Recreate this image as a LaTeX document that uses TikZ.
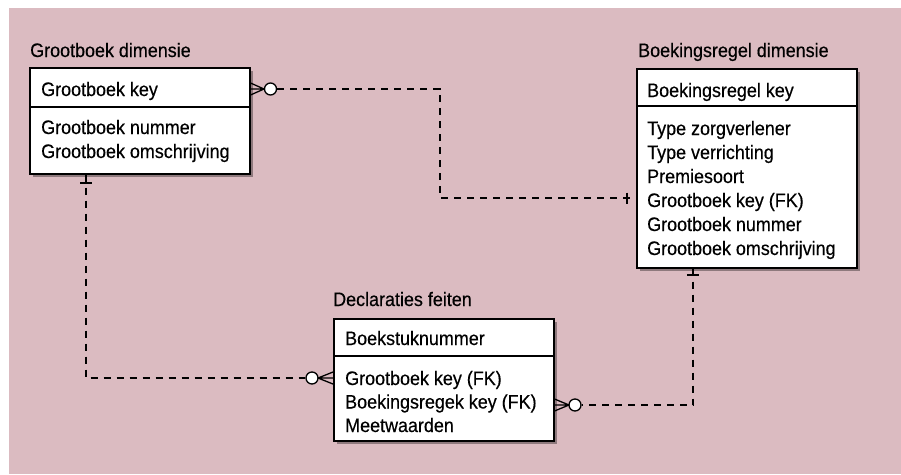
\documentclass[tikz,border=0pt]{standalone}
\usepackage{fontspec}
\setmainfont{Liberation Sans}[FakeStretch=0.92, FakeBold=0.4]
\usetikzlibrary{shadows}
\definecolor{bgpink}{HTML}{DBBBC1}
\begin{document}
\begin{tikzpicture}[x=1pt,y=-1pt,
  ebox/.style={draw=black, line width=1.5pt, fill=white, anchor=north west, inner sep=0pt,
    drop shadow={shadow xshift=3pt, shadow yshift=-3pt, fill=black, opacity=0.35}},
  lbl/.style={anchor=base west, inner sep=0pt, font=\fontsize{19.5}{23}\selectfont},
  conn/.style={line width=1.4pt, dash pattern=on 7pt off 6pt},
  sym/.style={line width=1.3pt},
  zero/.style={circle, draw=black, line width=1.3pt, fill=white, minimum size=12pt, inner sep=0pt}
]
\useasboundingbox (0,0) rectangle (901,474);
\fill[white] (0,0) rectangle (901,474);
\fill[bgpink] (9,8) rectangle (901,474);

% Grootboek dimensie
\node[lbl] (gbtitle) at (30,57) {Grootboek dimensie};
\node[ebox, minimum width=220pt, minimum height=106pt] (gb) at (29,67) {};
\draw[line width=1.5pt] (gb.west |- 0,107) -- (gb.east |- 0,107);
\node[lbl] (gbkey) at (41,96) {Grootboek key};
\node[lbl] (gbf1) at (41,134) {Grootboek nummer};
\node[lbl] (gbf2) at (41,158) {Grootboek omschrijving};

% Boekingsregel dimensie
\node[lbl] (brtitle) at (638,57) {Boekingsregel dimensie};
\node[ebox, minimum width=220pt, minimum height=199pt] (br) at (636,68) {};
\draw[line width=1.5pt] (br.west |- 0,106) -- (br.east |- 0,106);
\node[lbl] (brkey) at (647,97) {Boekingsregel key};
\node[lbl] (brf1) at (647,135) {Type zorgverlener};
\node[lbl] (brf2) at (647,159) {Type verrichting};
\node[lbl] (brf3) at (647,183) {Premiesoort};
\node[lbl] (brf4) at (647,207) {Grootboek key (FK)};
\node[lbl] (brf5) at (647,231) {Grootboek nummer};
\node[lbl] (brf6) at (647,255) {Grootboek omschrijving};

% Declaraties feiten
\node[lbl] (dftitle) at (333,306) {Declaraties feiten};
\node[ebox, minimum width=220pt, minimum height=122pt] (df) at (333,318) {};
\draw[line width=1.5pt] (df.west |- 0,356) -- (df.east |- 0,356);
\node[lbl] (dfkey) at (345,345) {Boekstuknummer};
\node[lbl] (dff1) at (345,385) {Grootboek key (FK)};
\node[lbl] (dff2) at (345,408.5) {Boekingsregek key (FK)};
\node[lbl] (dff3) at (345,432) {Meetwaarden};

% Connector 1: Grootboek key -> Boekingsregel (FK)
\node[zero] (z1) at (270.5,89) {};
\draw[conn] (z1.east) -- (440,89) -- (440,198) -- (br.west |- 0,198);
\draw[sym] (gb.east |- 0,83) -- (264,89) (gb.east |- 0,95) -- (264,89) (gb.east |- 0,89) -- (z1.west);
\draw[sym] (627,192.5) -- (627,203.5);

% Connector 2: Grootboek -> Declaraties
\node[zero] (z2) at (312,378) {};
\draw[conn] (gb.south -| 86,0) -- (86,378) -- (z2.west);
\draw[sym] (80,183) -- (92,183);
\draw[sym] (gb.south -| 86,0) -- (86,178);
\draw[sym] (df.west |- 0,372) -- (318,378) (df.west |- 0,384) -- (318,378) (df.west |- 0,378) -- (z2.east);

% Connector 3: Boekingsregel -> Declaraties
\node[zero] (z3) at (575,405) {};
\draw[conn] (br.south -| 693,0) -- (693,405) -- (z3.east);
\draw[sym] (687,275) -- (699,275);
\draw[sym] (br.south -| 693,0) -- (693,270);
\draw[sym] (df.east |- 0,399) -- (569,405) (df.east |- 0,411) -- (569,405) (df.east |- 0,405) -- (z3.west);
\end{tikzpicture}
\end{document}
